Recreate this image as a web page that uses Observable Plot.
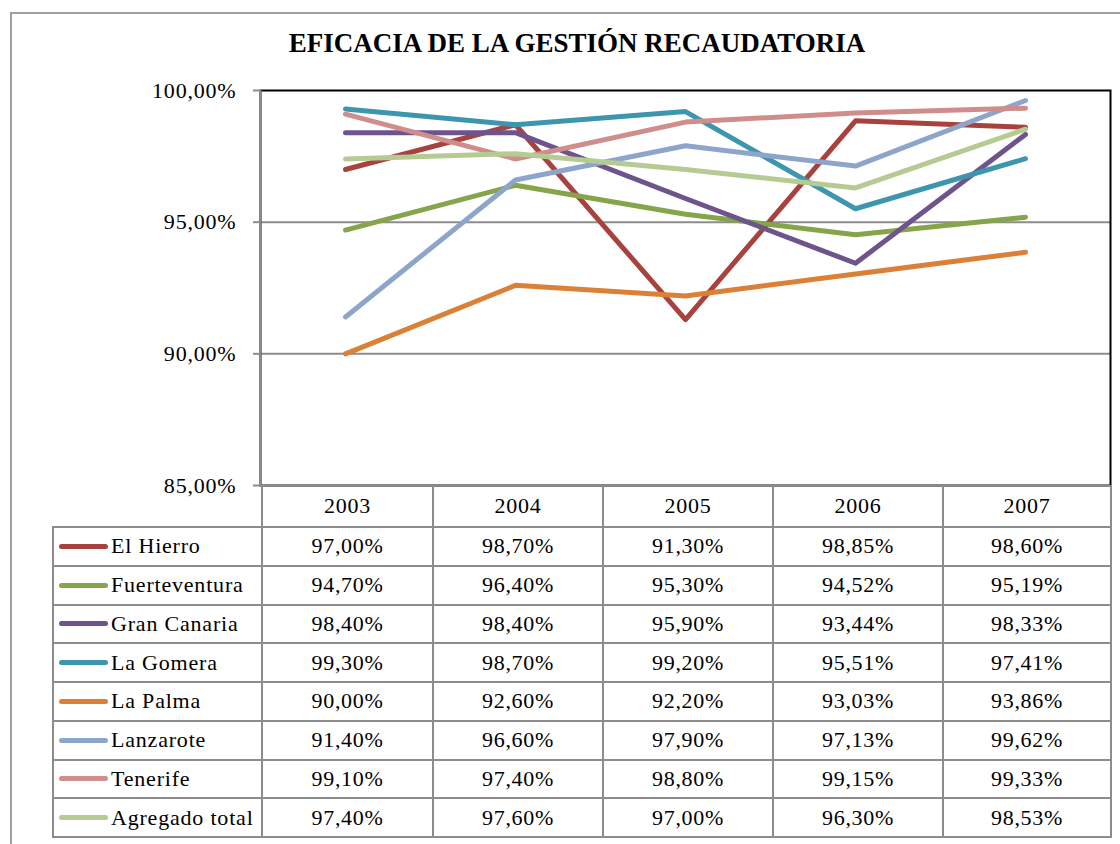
<!DOCTYPE html>
<html>
<head>
<meta charset="utf-8">
<script src="https://cdn.jsdelivr.net/npm/d3@7"></script>
<script src="https://cdn.jsdelivr.net/npm/@observablehq/plot@0.6"></script>
<style>
  html, body { margin: 0; padding: 0; background: #fff; overflow: hidden; }
  #wrap { position: relative; width: 1120px; height: 844px; overflow: hidden; font-family: "Liberation Serif", "Times New Roman", serif; }
  #frame { position: absolute; left: 10px; top: 12px; width: 1200px; height: 900px; border: 2px solid #a0a0a0; box-sizing: border-box; }
  #title { position: absolute; left: 0; top: 28px; width: 1154px; text-align: center; font-weight: bold; font-size: 27px; color: #000; font-family: "Liberation Serif", serif; }
  #chart { position: absolute; left: 0; top: 0; }
  #tbl { position: absolute; left: 52px; top: 485px; border-collapse: collapse; table-layout: fixed; font-size: 22px; letter-spacing: 0.7px; color: #000; font-family: "Liberation Serif", serif; }
  #tbl td { border: 2px solid #8c8c8c; text-align: center; padding: 0; height: 38.75px; box-sizing: border-box; }
  #tbl tr.head td { height: 42px; border-top: none; }
  #tbl tr.head td.blank { border: none; border-right: 2px solid #8c8c8c; }
  #tbl td.lab { text-align: left; white-space: nowrap; padding-left: 5px; letter-spacing: 0.8px; }
  .sw { display: inline-block; width: 49px; height: 5px; border-radius: 3px; vertical-align: middle; margin-right: 3px; position: relative; top: -2px; }
  #chart svg text { letter-spacing: 0.8px; }
</style>
</head>
<body>
<div id="wrap">
  <div id="frame"></div>
  <div id="chart"></div>
  <div id="title">EFICACIA DE LA GESTIÓN RECAUDATORIA</div>
  <table id="tbl"></table>
</div>
<script>
const years = [2003, 2004, 2005, 2006, 2007];
const series = ["El Hierro", "Fuerteventura", "Gran Canaria", "La Gomera", "La Palma", "Lanzarote", "Tenerife", "Agregado total"];
const colors = ["#a8423f", "#86a44a", "#6e548d", "#3d96ae", "#da8137", "#8ea5cb", "#cf8e8c", "#b6cb93"];
const elHierro      = [97.00, 98.70, 91.30, 98.85, 98.60];
const fuerteventura = [94.70, 96.40, 95.30, 94.52, 95.19];
const granCanaria   = [98.40, 98.40, 95.90, 93.44, 98.33];
const laGomera      = [99.30, 98.70, 99.20, 95.51, 97.41];
const laPalma       = [90.00, 92.60, 92.20, 93.03, 93.86];
const lanzarote     = [91.40, 96.60, 97.90, 97.13, 99.62];
const tenerife      = [99.10, 97.40, 98.80, 99.15, 99.33];
const agregado      = [97.40, 97.60, 97.00, 96.30, 98.53];
const yTicks = [85, 90, 95, 100];

const values = [elHierro, fuerteventura, granCanaria, laGomera, laPalma, lanzarote, tenerife, agregado];
const data = [];
series.forEach((s, i) => years.forEach((y, j) => data.push({serie: s, year: y, value: values[i][j]})));

const fmt = v => v.toFixed(2).replace(".", ",") + "%";
const xDomain = [years[0] - 0.5, years[years.length - 1] + 0.5];

const chart = Plot.plot({
  width: 1120,
  height: 844,
  marginLeft: 260,
  marginRight: 10,
  marginTop: 90,
  marginBottom: 359,
  style: { fontFamily: "Liberation Serif, serif", fontSize: "22px", color: "#000", background: "transparent", overflow: "visible" },
  x: { domain: xDomain, axis: null },
  y: { domain: [yTicks[0], yTicks[yTicks.length - 1]], ticks: yTicks, tickFormat: fmt, label: null },
  color: { domain: series, range: colors },
  marks: [
    Plot.ruleY(yTicks.slice(1, -1), { stroke: "#8c8c8c", strokeWidth: 2 }),
    Plot.frame({ stroke: "#000", strokeWidth: 2 }),
    Plot.ruleY([yTicks[0]], { stroke: "#8c8c8c", strokeWidth: 2 }),
    Plot.ruleX([xDomain[0]], { stroke: "#8c8c8c", strokeWidth: 2 }),
    Plot.axisY({ ticks: yTicks, tickFormat: fmt, tickSize: 7, tickPadding: 17, stroke: "#8c8c8c", strokeWidth: 2, strokeOpacity: 1, fontSize: 22, label: null }),
    Plot.line(data, { x: "year", y: "value", z: "serie", stroke: "serie", strokeWidth: 5, strokeLinejoin: "round", strokeLinecap: "round" })
  ]
});
document.getElementById("chart").appendChild(chart);

// data table
const tbl = document.getElementById("tbl");
const colW = [209, 171, 170, 170, 170, 168];
const cg = document.createElement("colgroup");
colW.forEach(w => { const c = document.createElement("col"); c.style.width = w + "px"; cg.appendChild(c); });
tbl.appendChild(cg);
tbl.style.width = colW.reduce((a, b) => a + b, 0) + "px";
const head = document.createElement("tr");
head.className = "head";
const blank = document.createElement("td");
blank.className = "blank";
head.appendChild(blank);
years.forEach(y => { const td = document.createElement("td"); td.textContent = y; head.appendChild(td); });
tbl.appendChild(head);
series.forEach((s, i) => {
  const tr = document.createElement("tr");
  const lab = document.createElement("td");
  lab.className = "lab";
  const sw = document.createElement("span");
  sw.className = "sw";
  sw.style.background = colors[i];
  lab.appendChild(sw);
  lab.appendChild(document.createTextNode(s));
  tr.appendChild(lab);
  values[i].forEach(v => { const td = document.createElement("td"); td.textContent = fmt(v); tr.appendChild(td); });
  tbl.appendChild(tr);
});
</script>
</body>
</html>
